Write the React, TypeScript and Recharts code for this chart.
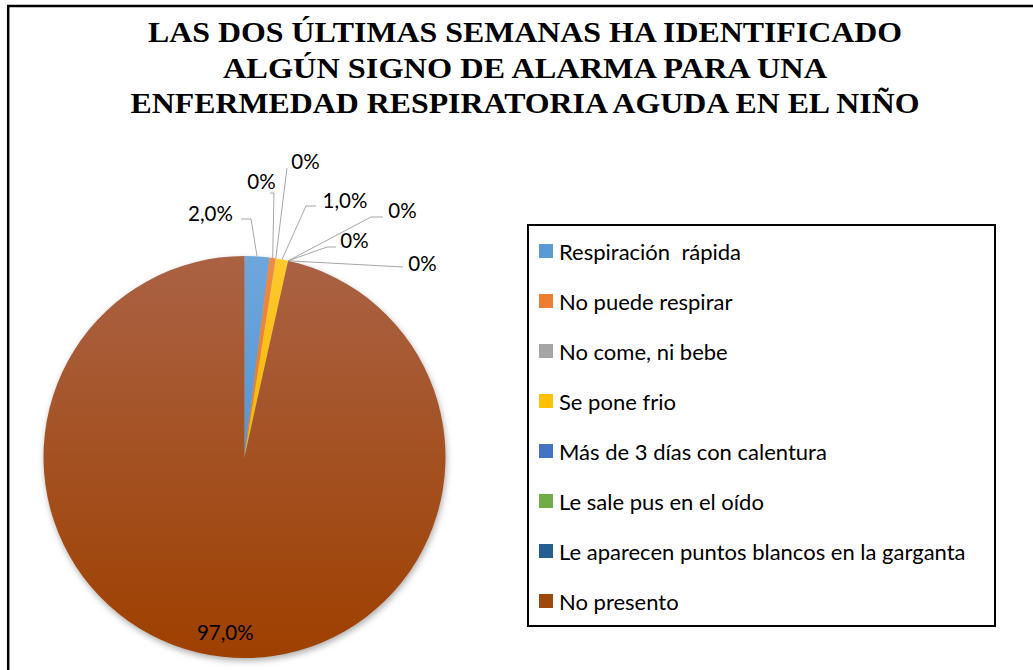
import React from 'react';
import { PieChart, Pie, Cell, Legend } from 'recharts';

const categories = [
  'Respiración  rápida',
  'No puede respirar',
  'No come, ni bebe',
  'Se pone frio',
  'Más de 3 días con calentura',
  'Le sale pus en el oído',
  'Le aparecen puntos blancos en la garganta',
  'No presento',
];
const values = [2.0, 0.5, 0, 1.0, 0, 0, 0, 97.0];
const labelTexts = ['2,0%', '0%', '0%', '1,0%', '0%', '0%', '0%', '97,0%'];
const titleLines = [
  'LAS DOS ÚLTIMAS SEMANAS HA IDENTIFICADO',
  'ALGÚN  SIGNO DE ALARMA PARA UNA',
  'ENFERMEDAD RESPIRATORIA AGUDA EN EL NIÑO',
];

const colors = ['#5B9BD5', '#ED7D31', '#A5A5A5', '#FFC000', '#4472C4', '#70AD47', '#255E91', '#9E480E'];
const fills = ['url(#gBlue)', 'url(#gOrange)', '#A5A5A5', 'url(#gYellow)', '#4472C4', '#70AD47', '#255E91', 'url(#gBrown)'];

// label layout: text centre and leader elbow points, relative to pie centre
const labelLayout: { t: [number, number]; pts: [number, number][] }[] = [
  { t: [-34, -244], pts: [[6.5, -238], [-3.5, -238]] },
  { t: [17, -276], pts: [[29.5, -264], [25.5, -264]] },
  { t: [61, -296], pts: [[42.5, -289]] },
  { t: [100.5, -257], pts: [[61.5, -251], [71.5, -251]] },
  { t: [158, -247], pts: [[126.5, -240], [138.5, -240]] },
  { t: [110, -217], pts: [[82.5, -210], [91.5, -210]] },
  { t: [178, -194], pts: [[158.5, -190]] },
];

const data = categories.map((name, i) => ({ name, value: values[i] }));
const shadowData = [{ name: 'shadow', value: 1 }];

const W = 1033;
const H = 670;
const CX = 244.5;
const CY = 457;
const R = 201;

const RAD = Math.PI / 180;
const FONT = 'Lato, "Open Sans", sans-serif';

const renderLabel = (props: any) => {
  const { cx, cy, midAngle, outerRadius, index } = props;
  const txt = labelTexts[index];
  const font = { fontFamily: FONT, fontSize: 20.5, fill: '#000' };
  if (index === labelTexts.length - 1) {
    const r = outerRadius * 0.875;
    const x = cx + r * Math.cos(-midAngle * RAD);
    const y = cy + r * Math.sin(-midAngle * RAD);
    return (
      <text key={`l${index}`} x={x} y={y} textAnchor="middle" dominantBaseline="central" {...font}>
        {txt}
      </text>
    );
  }
  const lay = labelLayout[index];
  const ax = cx + outerRadius * Math.cos(-midAngle * RAD);
  const ay = cy + outerRadius * Math.sin(-midAngle * RAD);
  const pts = [[ax, ay], ...lay.pts.map(([dx, dy]) => [cx + dx, cy + dy])];
  return (
    <g key={`l${index}`}>
      <polyline points={pts.map((p) => p.join(',')).join(' ')} fill="none" stroke="#A6A6A6" strokeWidth={1} />
      <text x={cx + lay.t[0]} y={cy + lay.t[1]} textAnchor="middle" dominantBaseline="central" {...font}>
        {txt}
      </text>
    </g>
  );
};

const LegendBox = () => (
  <div
    style={{
      width: 469,
      height: 403,
      border: '2px solid #000',
      boxSizing: 'border-box',
      background: '#fff',
      position: 'relative',
    }}
  >
    {categories.map((c, i) => (
      <div
        key={c}
        style={{
          position: 'absolute',
          left: 10,
          top: 13 + i * 50,
          height: 24,
          display: 'flex',
          alignItems: 'center',
          fontFamily: FONT,
          fontSize: 22,
          color: '#000',
          whiteSpace: 'pre',
        }}
      >
        <span style={{ width: 14, height: 14, background: colors[i], display: 'inline-block', marginRight: 6, flex: 'none' }} />
        <span>{c}</span>
      </div>
    ))}
  </div>
);

export default function App() {
  return (
    <div style={{ position: 'absolute', left: 0, top: 0, width: W, height: H, background: '#fff', overflow: 'hidden' }}>
      <svg width={0} height={0} style={{ position: 'absolute' }}>
        <defs>
          <linearGradient id="gBrown" x1="0" y1="0" x2="0" y2="1">
            <stop offset="0%" stopColor="#AA6244" />
            <stop offset="100%" stopColor="#9E4000" />
          </linearGradient>
          <linearGradient id="gBlue" x1="0" y1="0" x2="0" y2="1">
            <stop offset="0%" stopColor="#6EA7DC" />
            <stop offset="100%" stopColor="#5594D2" />
          </linearGradient>
          <linearGradient id="gOrange" x1="0" y1="0" x2="0" y2="1">
            <stop offset="0%" stopColor="#F08A45" />
            <stop offset="100%" stopColor="#E8741F" />
          </linearGradient>
          <linearGradient id="gYellow" x1="0" y1="0" x2="0" y2="1">
            <stop offset="0%" stopColor="#FFC92E" />
            <stop offset="100%" stopColor="#F2B500" />
          </linearGradient>
          <filter id="pieShadow" x="-10%" y="-10%" width="120%" height="125%">
            <feGaussianBlur in="SourceGraphic" stdDeviation="3" result="b" />
            <feOffset in="b" dx="1" dy="3" />
          </filter>
        </defs>
      </svg>
      <PieChart width={W} height={H} margin={{ top: 0, right: 0, bottom: 0, left: 0 }}>
        <Pie
          data={shadowData}
          dataKey="value"
          cx={CX}
          cy={CY}
          outerRadius={R}
          startAngle={90}
          endAngle={-270}
          stroke="none"
          isAnimationActive={false}
          label={false}
          labelLine={false}
          legendType="none"
        >
          <Cell fill="#8a8a8a" fillOpacity={0.7} filter="url(#pieShadow)" />
        </Pie>
        <Pie
          data={data}
          dataKey="value"
          nameKey="name"
          cx={CX}
          cy={CY}
          outerRadius={R}
          startAngle={90}
          endAngle={-270}
          stroke="none"
          isAnimationActive={false}
          label={renderLabel}
          labelLine={false}
        >
          {data.map((d, i) => (
            <Cell key={d.name} fill={fills[i]} />
          ))}
        </Pie>
        <Legend
          content={() => <LegendBox />}
          wrapperStyle={{ position: 'absolute', left: 527, top: 224, width: 469, height: 403 }}
        />
      </PieChart>
      <svg width={W} height={H} style={{ position: 'absolute', left: 0, top: 0, pointerEvents: 'none' }}>
        <path d={`M8.2,${H} L8.2,6 L${W},6`} fill="none" stroke="#000" strokeWidth={2.5} />
        {titleLines.map((t, i) => (
          <text
            key={t}
            x={525}
            y={42 + i * 35.5}
            textAnchor="middle"
            fontFamily='"Liberation Serif", "Times New Roman", serif'
            fontWeight="bold"
            fontSize={30}
            fill="#000"
            textLength={[754, 604, 789][i]}
            lengthAdjust="spacingAndGlyphs"
          >
            {t}
          </text>
        ))}
      </svg>
    </div>
  );
}
